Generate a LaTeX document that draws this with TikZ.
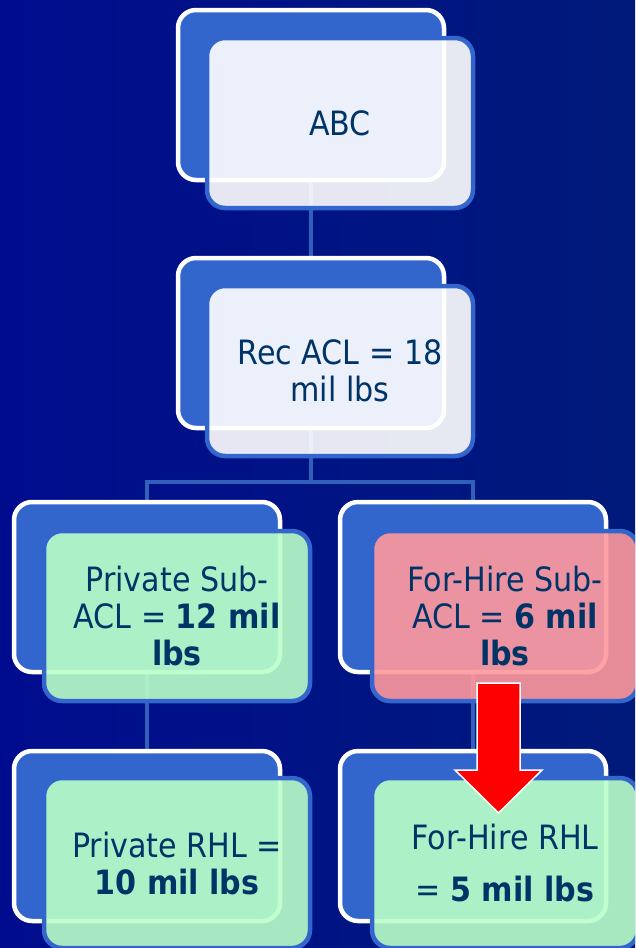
\documentclass[tikz,border=0pt]{standalone}
\usepackage{fontspec}
\setmainfont{DejaVu Sans Condensed}
\definecolor{bgleft}{RGB}{0,12,142}
\definecolor{bgright}{RGB}{0,26,122}
\definecolor{backblue}{RGB}{51,102,204}
\definecolor{linkblue}{RGB}{49,96,186}
\definecolor{ink}{RGB}{0,51,102}
\definecolor{paleface}{RGB}{255,255,255}
\definecolor{greenface}{RGB}{186,255,200}
\definecolor{redface}{RGB}{255,152,156}
\tikzset{
  backcard/.style={draw=white, line width=4.5pt, fill=backblue, rounded corners=18pt,
    minimum width=266pt, minimum height=170pt, inner sep=0pt, outer sep=0pt},
  frontcard/.style={draw=backblue, line width=4.5pt, fill=#1, fill opacity=0.9, text opacity=1,
    rounded corners=18pt, minimum width=266pt, minimum height=170pt, inner sep=0pt, outer sep=0pt,
    align=center, text=ink, font=\fontsize{33.5}{37}\selectfont},
  frontcard/.default=paleface,
  link/.style={draw=linkblue, line width=4pt},
  bigarrow/.style={fill=red, draw=white, line width=1.5pt, line join=miter}
}
\begin{document}
\begin{tikzpicture}[x=1pt, y=-1pt]
  % page and background
  \useasboundingbox (0,0) rectangle (635,948);
  \clip (0,0) rectangle (635,948);
  \shade[left color=bgleft, right color=bgright] (0,0) rectangle (635,948);

  % card anchors (back cards are placed here, connectors run between them)
  \coordinate (c1)  at (311,95);
  \coordinate (c2)  at (311,343);
  \coordinate (c3l) at (147,587);
  \coordinate (c3r) at (473,587);
  \coordinate (c4l) at (147,836);
  \coordinate (c4r) at (473,836);
  \coordinate (split) at (311,482);

  % connectors, drawn first so every card sits on top of them
  \draw[link] (c1) -- (c2);
  \draw[link] (c2) -- (split);
  \draw[link] (c3l) |- (split) -| (c3r);
  \draw[link] (c3l) -- (c4l);
  \draw[link] (c3r) -- (c4r);

  % back cards
  \node[backcard] (b1)  at (c1)  {};
  \node[backcard] (b2)  at (c2)  {};
  \node[backcard] (b3l) at (c3l) {};
  \node[backcard] (b3r) at (c3r) {};
  \node[backcard] (b4l) at (c4l) {};
  \node[backcard] (b4r) at (c4r) {};

  % translucent front cards with the labels
  \node[frontcard] (f1)  at (340,123) {ABC};
  \node[frontcard] (f2)  at (340,371) {Rec ACL = 18\\mil lbs};
  \node[frontcard=greenface] (f3l) at (177,616) {Private Sub-\\ACL = \textbf{12 mil}\\\textbf{lbs}};
  \node[frontcard=redface]   (f3r) at (505,616) {For-Hire Sub-\\ACL = \textbf{6 mil}\\\textbf{lbs}};
  \node[frontcard=greenface] (f4l) at (177,863) {Private RHL =\\\textbf{10 mil lbs}};
  \node[frontcard=greenface] (f4r) at (505,863) {For-Hire RHL\\[15pt]= \textbf{5 mil lbs}};

  % red block arrow from the for-hire sub-ACL to the for-hire RHL
  \draw[bigarrow] (477,683) -- (520,683) -- (520,770) -- (542,770) -- (498.5,813)
    -- (455,770) -- (477,770) -- cycle;
\end{tikzpicture}
\end{document}
